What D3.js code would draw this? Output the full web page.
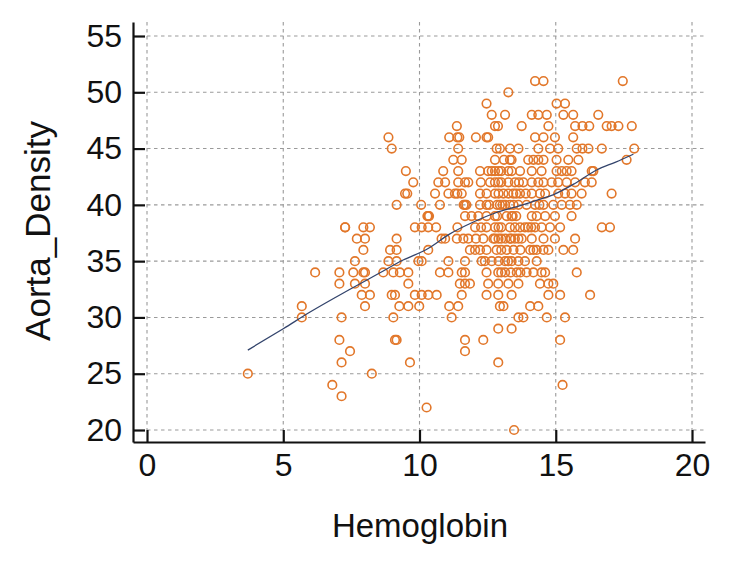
<!DOCTYPE html>
<html>
<head>
<meta charset="utf-8">
<script src="https://cdn.jsdelivr.net/npm/d3@7"></script>
<style>
  html, body { margin: 0; padding: 0; background: #fff; }
  svg { display: block; }
  text { font-family: "Liberation Sans", Arial, sans-serif; fill: #111; }
</style>
</head>
<body>
<svg id="chart" width="750" height="563"></svg>
<script>
// ---- data ----
const xTicks = [0, 5, 10, 15, 20];
const yTicks = [20, 25, 30, 35, 40, 45, 50, 55];
const xTitle = "Hemoglobin";
const yTitle = "Aorta_Density";

// Hemoglobin values, grouped by Aorta_Density row
const hbValues = [
  // sparse left / low
  3.7, 5.68, 5.68, 6.17, 7.06, 7.06, 7.14, 7.06, 7.14, 6.8, 7.14, 7.45, 7.27, 7.57,
  // row 51..47
  14.24, 14.55, 17.46,
  13.26,
  12.46, 15.03, 15.34,
  12.65, 13.14, 14.12, 14.36, 14.67, 15.28, 15.64, 16.56,
  11.37, 12.77, 12.88, 13.75, 14.73, 15.71, 15.98, 16.23, 16.87, 17.05, 17.30, 17.79,
  // row 46
  8.86, 11.09, 11.39, 11.46, 12.07, 12.46, 12.52, 14.24, 14.55, 14.97, 15.64,
  // row 45
  8.98, 11.42, 12.83, 12.95, 13.32, 13.63, 14.36, 14.79, 15.09, 15.77, 15.98, 16.2, 16.69, 17.88,
  // row 44
  11.24, 11.55, 12.77, 13.32, 13.38, 13.99, 14.18, 14.36, 14.55, 15.03, 15.46, 15.83, 17.6,
  // row 43
  9.50, 10.87, 11.42, 12.22, 12.52, 12.65, 12.77, 13.0, 13.26, 13.38, 13.69, 14.12, 14.48, 15.03, 15.22, 15.40, 15.58, 16.32, 16.38,
  // row 42
  9.77, 10.69, 10.94, 11.42, 11.67, 11.79, 12.25, 12.59, 12.77, 13.0, 13.26, 13.50, 13.81, 14.12, 14.36, 14.55, 14.85, 15.09, 15.40, 15.71, 16.07, 16.32,
  // row 41
  9.47, 9.55, 10.57, 11.06, 11.30, 11.39, 11.55, 12.22, 12.46, 12.77, 13.08, 13.26, 13.44, 13.69, 14.12, 14.42, 14.61, 15.09, 15.34, 15.58, 15.95, 17.05,
  // row 40
  9.16, 10.06, 10.75, 11.67, 11.72, 12.22, 12.46, 12.56, 12.95, 13.14, 13.32, 13.63, 13.93, 14.24, 14.55, 14.91, 15.22, 15.52, 15.77,
  // row 39
  10.29, 10.32, 11.67, 11.91, 12.16, 12.46, 12.77, 13.38, 13.42, 14.12, 14.61, 14.97, 15.58,
  // row 38
  7.27, 7.94, 8.18, 9.83, 10.08, 10.32, 10.61, 11.39, 12.04, 12.26, 12.46, 12.77, 13.0, 13.32, 13.69, 13.87, 13.99, 14.24, 14.48, 14.79, 15.16, 16.69, 16.99,
  // row 37
  7.70, 8.0, 9.16, 10.81, 10.94, 11.37, 11.61, 11.79, 12.07, 12.34, 12.71, 12.77, 13.0, 13.32, 13.36, 13.63, 14.12, 14.55, 14.97, 15.71,
  // row 36
  7.94, 8.92, 9.16, 10.32, 11.85, 12.04, 12.22, 12.46, 12.83, 13.0, 14.06, 14.18, 14.55, 14.73, 15.28, 15.64,
  // row 35
  7.63, 8.86, 9.16, 9.96, 10.08, 11.06, 11.67, 12.28, 12.40, 12.65, 13.14, 13.38, 13.63, 13.87, 14.3,
  // row 34
  7.94, 8.0, 8.67, 9.04, 9.28, 9.59, 10.75, 11.06, 11.55, 11.67, 12.46, 12.89, 13.0, 13.14, 13.57, 13.93, 14.18, 14.48, 14.61, 15.77,
  // row 33
  7.63, 8.0, 9.59, 11.48, 11.67, 11.85, 12.52, 12.89, 13.26, 13.63, 14.42, 14.73, 14.91,
  // row 32
  7.88, 8.18, 8.98, 9.10, 9.83, 10.08, 10.32, 10.63, 11.55, 12.46, 12.89, 13.38, 14.73, 15.16, 16.26,
  // row 31
  8.0, 9.26, 9.59, 9.99, 11.09, 11.42, 12.95, 13.08, 14.06, 14.36,
  // row 30
  9.04, 11.18, 13.63, 13.81, 14.67, 15.34,
  // row 29
  12.89, 13.38,
  // row 28
  9.10, 9.16, 11.67, 12.34, 15.16,
  // row 27
  11.67,
  // row 26
  9.65, 12.89,
  // row 25, 24, 22, 20
  8.25, 15.25, 10.26, 13.47,
  // overlapping points in the dense centre (darker rings in the reference)
  12.85, 13.05, 13.45, 11.62, 14.4,
  12.85, 13.2, 13.55, 10.35, 14.3,
  12.9, 13.5, 14.1,
  12.9, 13.15, 13.5, 13.75,
  12.9, 13.55, 13.9,
  12.9, 13.65,
  13.2, 13.45, 13.7, 14.3,
  12.9, 13.25,
  13.35, 13.7,
  12.9,
  13.1
];

const densityValues = [
  25, 31, 30, 34, 34, 33, 30, 28, 26, 24, 23, 27, 38, 34,
  51, 51, 51,
  50,
  49, 49, 49,
  48, 48, 48, 48, 48, 48, 48, 48,
  47, 47, 47, 47, 47, 47, 47, 47, 47, 47, 47, 47,
  46, 46, 46, 46, 46, 46, 46, 46, 46, 46, 46,
  45, 45, 45, 45, 45, 45, 45, 45, 45, 45, 45, 45, 45, 45,
  44, 44, 44, 44, 44, 44, 44, 44, 44, 44, 44, 44, 44,
  43, 43, 43, 43, 43, 43, 43, 43, 43, 43, 43, 43, 43, 43, 43, 43, 43, 43, 43,
  42, 42, 42, 42, 42, 42, 42, 42, 42, 42, 42, 42, 42, 42, 42, 42, 42, 42, 42, 42, 42, 42,
  41, 41, 41, 41, 41, 41, 41, 41, 41, 41, 41, 41, 41, 41, 41, 41, 41, 41, 41, 41, 41, 41,
  40, 40, 40, 40, 40, 40, 40, 40, 40, 40, 40, 40, 40, 40, 40, 40, 40, 40, 40,
  39, 39, 39, 39, 39, 39, 39, 39, 39, 39, 39, 39, 39,
  38, 38, 38, 38, 38, 38, 38, 38, 38, 38, 38, 38, 38, 38, 38, 38, 38, 38, 38, 38, 38, 38, 38,
  37, 37, 37, 37, 37, 37, 37, 37, 37, 37, 37, 37, 37, 37, 37, 37, 37, 37, 37, 37,
  36, 36, 36, 36, 36, 36, 36, 36, 36, 36, 36, 36, 36, 36, 36, 36,
  35, 35, 35, 35, 35, 35, 35, 35, 35, 35, 35, 35, 35, 35, 35,
  34, 34, 34, 34, 34, 34, 34, 34, 34, 34, 34, 34, 34, 34, 34, 34, 34, 34, 34, 34,
  33, 33, 33, 33, 33, 33, 33, 33, 33, 33, 33, 33, 33,
  32, 32, 32, 32, 32, 32, 32, 32, 32, 32, 32, 32, 32, 32, 32,
  31, 31, 31, 31, 31, 31, 31, 31, 31, 31,
  30, 30, 30, 30, 30, 30,
  29, 29,
  28, 28, 28, 28, 28,
  27,
  26, 26,
  25, 24, 22, 20,
  40, 40, 40, 40, 40,
  39, 39, 39, 39, 39,
  38, 38, 38,
  37, 37, 37, 37,
  41, 41, 41,
  42, 42,
  36, 36, 36, 36,
  35, 35,
  34, 34,
  43,
  44
];

// smoothed (LOWESS-like) fit line
const fitX = [3.7, 5.0, 6.0, 7.45, 8.5, 9.4, 10.3, 11.1, 12.0, 12.8, 13.5, 14.3, 15.0, 15.7, 16.5, 17.2, 17.85];
const fitY = [27.1, 29.0, 30.5, 32.5, 33.9, 35.1, 36.1, 37.4, 38.5, 39.3, 39.8, 40.4, 41.0, 41.9, 43.1, 43.8, 44.5];

// ---- drawing ----
const svg = d3.select("#chart");

const x = d3.scaleLinear().domain([-0.514, 20.477]).range([133, 705]);
const y = d3.scaleLinear().domain([18.934, 56.244]).range([442, 22]);

const gridColor = "#9a9a9a";

// grid
const grid = svg.append("g").attr("class", "grid");
grid.selectAll("line.h").data(yTicks).join("line")
  .attr("x1", x(0)).attr("x2", x.range()[1])
  .attr("y1", d => y(d)).attr("y2", d => y(d))
  .attr("stroke", gridColor).attr("stroke-width", 1.1)
  .attr("stroke-dasharray", "3.5,3.5");
grid.selectAll("line.v").data(xTicks).join("line")
  .attr("x1", d => x(d)).attr("x2", d => x(d))
  .attr("y1", y.range()[1]).attr("y2", y(20))
  .attr("stroke", gridColor).attr("stroke-width", 1.1)
  .attr("stroke-dasharray", "3.5,3.5");

// points
const pts = hbValues.map((v, i) => ({ hb: v, ad: densityValues[i] }));
svg.append("g").selectAll("circle").data(pts).join("circle")
  .attr("cx", d => x(d.hb))
  .attr("cy", d => y(d.ad))
  .attr("r", 4.3)
  .attr("fill", "none")
  .attr("stroke", "#E2772A")
  .attr("stroke-width", 1.6);

// fit line
const fit = fitX.map((v, i) => [v, fitY[i]]);
svg.append("path")
  .datum(fit)
  .attr("fill", "none")
  .attr("stroke", "#33446c")
  .attr("stroke-width", 1.3)
  .attr("d", d3.line().x(d => x(d[0])).y(d => y(d[1])).curve(d3.curveMonotoneX));

// axes
const yAxis = d3.axisLeft(y).tickValues(yTicks).tickSizeInner(-12).tickSizeOuter(0).tickPadding(11);
const xAxis = d3.axisBottom(x).tickValues(xTicks).tickSizeInner(-12).tickSizeOuter(0).tickPadding(11);

const gy = svg.append("g").attr("transform", "translate(133,0)").call(yAxis);
const gx = svg.append("g").attr("transform", "translate(0,442)").call(xAxis);

[gx, gy].forEach(g => {
  g.select(".domain").attr("stroke", "#111").attr("stroke-width", 2.2);
  g.selectAll(".tick line").attr("stroke", "#111").attr("stroke-width", 2.2);
  g.selectAll(".tick text").attr("font-size", 32).attr("fill", "#111")
    .style("font-family", '"Liberation Sans", Arial, sans-serif');
});

// titles
svg.append("text")
  .attr("x", 420).attr("y", 537)
  .attr("text-anchor", "middle")
  .attr("font-size", 33)
  .text(xTitle);

svg.append("text")
  .attr("transform", "translate(50,231) rotate(-90)")
  .attr("text-anchor", "middle")
  .attr("font-size", 35)
  .text(yTitle);
</script>
</body>
</html>
